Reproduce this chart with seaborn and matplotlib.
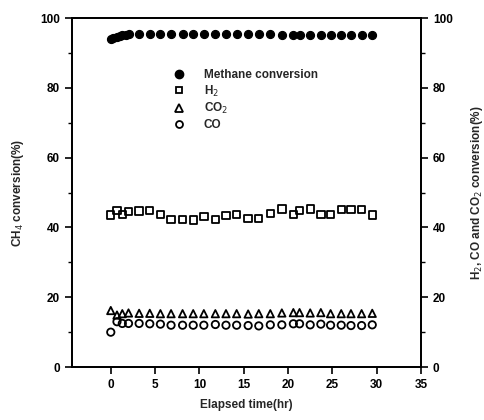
import matplotlib
matplotlib.use("Agg")
import matplotlib.pyplot as plt
import seaborn as sns
import pandas as pd
from matplotlib.ticker import MultipleLocator
from matplotlib.lines import Line2D

sns.set_theme(style="ticks")
plt.rcParams['font.family'] = ['Liberation Sans', 'DejaVu Sans']

time_main = [0, 0.7, 1.3, 2.0, 3.2, 4.4, 5.6, 6.8, 8.1, 9.3, 10.5, 11.8, 13.0, 14.2,
             15.5, 16.7, 18.0, 19.3, 20.6, 21.3, 22.5, 23.7, 24.8, 26.0, 27.1, 28.3, 29.5]
time_ch4 = [0, 0.3, 0.7, 1.0, 1.3, 1.7, 2.0, 3.2, 4.4, 5.6, 6.8, 8.1, 9.3, 10.5, 11.8, 13.0,
            14.2, 15.5, 16.7, 18.0, 19.3, 20.6, 21.3, 22.5, 23.7, 24.8, 26.0, 27.1, 28.3, 29.5]
ch4 = [94.0, 94.3, 94.6, 94.9, 95.1, 95.2, 95.3, 95.4, 95.4, 95.4, 95.4, 95.3, 95.3, 95.3,
       95.3, 95.3, 95.3, 95.3, 95.3, 95.3, 95.2, 95.2, 95.2, 95.2, 95.2, 95.1, 95.1, 95.1, 95.1, 95.1]
h2 = [43.6, 44.8, 43.7, 44.6, 44.7, 44.8, 43.7, 42.3, 42.3, 42.1, 43.2, 42.3, 43.5, 43.8,
      42.6, 42.6, 44.0, 45.3, 43.8, 44.9, 45.3, 43.8, 43.8, 45.1, 45.1, 45.1, 43.6]
co2 = [16.2, 14.9, 15.3, 15.5, 15.4, 15.4, 15.3, 15.3, 15.3, 15.3, 15.3, 15.3, 15.3, 15.3,
       15.2, 15.3, 15.3, 15.5, 15.6, 15.6, 15.5, 15.6, 15.3, 15.3, 15.3, 15.3, 15.4]
co = [10.0, 13.0, 12.5, 12.5, 12.5, 12.4, 12.3, 12.0, 12.0, 12.0, 12.0, 12.2, 12.0, 12.0,
      11.9, 11.8, 12.1, 12.1, 12.4, 12.4, 12.1, 12.3, 12.0, 12.0, 11.9, 11.9, 12.1]

labels = ["Methane conversion", "H$_2$", "CO$_2$", "CO"]

fig = plt.figure(figsize=(4.85, 4.2), dpi=100)
ax = fig.add_axes([0.148, 0.126, 0.72, 0.831])
ax2 = ax.twinx()

ms = 28
sns.scatterplot(x=time_ch4, y=ch4, ax=ax, marker="o", color="black", s=ms + 6,
                edgecolor="black", linewidth=0.8, legend=False)
df = pd.DataFrame({"t": time_main, "h2": h2, "co2": co2, "co": co})
sns.scatterplot(data=df, x="t", y="h2", ax=ax2, marker="s", facecolor="none",
                edgecolor="black", linewidth=1.3, s=ms, legend=False)
sns.scatterplot(data=df, x="t", y="co2", ax=ax2, marker="^", facecolor="none",
                edgecolor="black", linewidth=1.3, s=ms, legend=False)
sns.scatterplot(data=df, x="t", y="co", ax=ax2, marker="o", facecolor="none",
                edgecolor="black", linewidth=1.3, s=ms, legend=False)

for a in (ax, ax2):
    a.set_ylim(0, 100)
    a.set_xlim(-4.4, 35)
    a.yaxis.set_major_locator(MultipleLocator(20))
    a.yaxis.set_minor_locator(MultipleLocator(10))
    a.tick_params(axis="both", which="major", direction="out", length=5, width=1.2,
                  labelsize=8.5, color="black", labelcolor="black")
    a.tick_params(axis="y", which="minor", direction="out", length=3, width=1.0, color="black")
    for sp in a.spines.values():
        sp.set_visible(True)
        sp.set_color("black")
        sp.set_linewidth(1.3)

ax.set_xticks([0, 5, 10, 15, 20, 25, 30, 35])
for lab in ax.get_xticklabels() + ax.get_yticklabels() + ax2.get_yticklabels():
    lab.set_fontweight("bold")

ax.set_xlabel("Elapsed time(hr)", fontsize=8.5, fontweight="bold", labelpad=6)
ax.set_ylabel("CH$_4$ conversion(%)", fontsize=8.5, fontweight="bold", labelpad=10)
ax2.set_ylabel("H$_2$, CO and CO$_2$ conversion(%)", fontsize=8.5, fontweight="bold", labelpad=12)
ax2.set_xlabel("")

handles = [
    Line2D([], [], marker="o", ls="", color="black", markersize=6),
    Line2D([], [], marker="s", ls="", markerfacecolor="none", markeredgecolor="black", markersize=5, mew=1.3),
    Line2D([], [], marker="^", ls="", markerfacecolor="none", markeredgecolor="black", markersize=5.5, mew=1.3),
    Line2D([], [], marker="o", ls="", markerfacecolor="none", markeredgecolor="black", markersize=5, mew=1.3),
]
ax2.legend(handles, labels, loc="upper left", bbox_to_anchor=(0.26, 0.885),
           frameon=False, prop={"size": 8.5, "weight": "bold"},
           handletextpad=1.6, labelspacing=0.22, handlelength=1.0)

fig.savefig("out.png", dpi=100)
